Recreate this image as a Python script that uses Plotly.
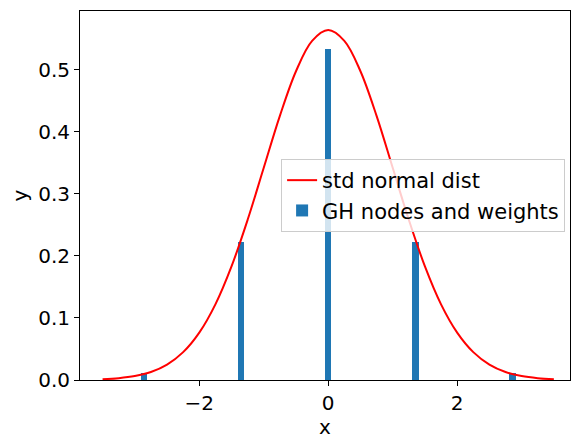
import plotly.graph_objects as go

# curve values
curve_x = [-3.5, -3.25, -3.0, -2.75, -2.5, -2.25, -2.0, -1.75, -1.5, -1.25, -1.0, -0.75, -0.5, -0.25, 0.0,
           0.25, 0.5, 0.75, 1.0, 1.25, 1.5, 1.75, 2.0, 2.25, 2.5, 2.75, 3.0, 3.25, 3.5]
curve_y = [0.0012, 0.0029, 0.0063, 0.0128, 0.0248, 0.0449, 0.0764, 0.1220, 0.1832, 0.2583, 0.3422, 0.4259, 0.4979, 0.5468, 0.5642,
           0.5468, 0.4979, 0.4259, 0.3422, 0.2583, 0.1832, 0.1220, 0.0764, 0.0449, 0.0248, 0.0128, 0.0063, 0.0029, 0.0012]

# Gauss-Hermite nodes and weights
nodes = [-2.857, -1.356, 0.0, 1.356, 2.857]
weights = [0.0113, 0.2221, 0.5333, 0.2221, 0.0113]

fig = go.Figure()
fig.add_trace(go.Scatter(x=curve_x, y=curve_y, mode="lines", line=dict(color="red", width=2, shape="spline"),
                         name="std normal dist"))
fig.add_trace(go.Bar(x=nodes, y=weights, width=0.1, marker=dict(color="#1f77b4", line=dict(width=0)),
                     name="GH nodes and weights"))

axis_common = dict(showgrid=False, zeroline=False, showline=True, mirror=True, linecolor="black", linewidth=1,
                   ticks="outside", ticklen=5, tickcolor="black", tickfont=dict(size=20, color="black"))
fig.update_layout(
    width=584, height=444,
    margin=dict(l=72, r=22, t=3, b=72),
    plot_bgcolor="white", paper_bgcolor="white",
    font=dict(family="DejaVu Sans", color="black"),
    xaxis=dict(range=[-3.85, 3.75], tickvals=[-2, 0, 2], ticktext=["\u22122", "0", "2"],
               title=dict(text="x", font=dict(size=20), standoff=2), **axis_common),
    yaxis=dict(range=[0, 0.595], tickvals=[0, 0.1, 0.2, 0.3, 0.4, 0.5], tickformat=".1f",
               title=dict(text="y", font=dict(size=20), standoff=6), **axis_common),
    legend=dict(x=0.99, y=0.5, xanchor="right", yanchor="middle", font=dict(size=21),
                bgcolor="rgba(255,255,255,0.8)", bordercolor="#cccccc", borderwidth=1,
                traceorder="normal"),
    bargap=0,
)

fig.write_html("out.html")
